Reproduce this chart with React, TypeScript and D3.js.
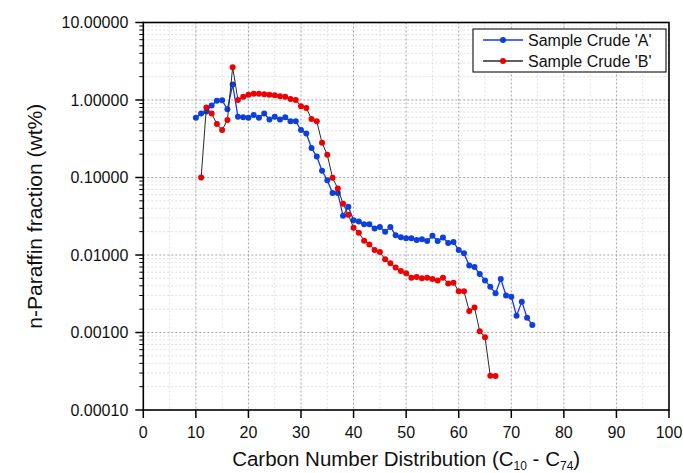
import React from "react";
import * as d3 from "d3";

const carbonA = d3.range(10, 75);
const fractionA = [
  0.59, 0.67, 0.71, 0.85, 0.98, 0.99, 0.76, 1.58, 0.61, 0.6,
  0.59, 0.64, 0.59, 0.67, 0.56, 0.61, 0.56, 0.6, 0.53, 0.53,
  0.41, 0.37, 0.24, 0.186, 0.122, 0.092, 0.063, 0.063, 0.032, 0.042,
  0.028, 0.027, 0.025, 0.025, 0.022, 0.023, 0.02, 0.023, 0.018, 0.017,
  0.0164, 0.0164, 0.0156, 0.016, 0.0152, 0.0177, 0.0152, 0.0168, 0.0143, 0.0147,
  0.0116, 0.0105, 0.0073, 0.007, 0.0057, 0.0047, 0.0039, 0.0032, 0.0049, 0.003,
  0.0029, 0.00165, 0.0025, 0.00155, 0.00125,
];

const carbonB = d3.range(11, 68);
const fractionB = [
  0.1, 0.8, 0.67, 0.49, 0.41, 0.55, 2.65, 1.0, 1.1,
  1.17, 1.2, 1.2, 1.19, 1.17, 1.15, 1.12, 1.1, 1.03, 1.0,
  0.83, 0.79, 0.57, 0.53, 0.28, 0.196, 0.099, 0.072, 0.046, 0.033,
  0.0225, 0.0194, 0.0153, 0.0137, 0.0116, 0.0109, 0.0088, 0.0078, 0.0069, 0.0062,
  0.0058, 0.0051, 0.0052, 0.005, 0.0051, 0.0049, 0.0047, 0.0051, 0.0043, 0.0044,
  0.0034, 0.0034, 0.0019, 0.0021, 0.00104, 0.00087, 0.000277, 0.000275,
];

const xTicks = [0, 10, 20, 30, 40, 50, 60, 70, 80, 90, 100];
const yTicks = [0.0001, 0.001, 0.01, 0.1, 1, 10];
const seriesNames = ["Sample Crude 'A'", "Sample Crude 'B'"];

const W = 683;
const H = 473;
const L = 143.3, R = 669, T = 22.5, B = 410;
const FONT = "'Liberation Sans', Arial, sans-serif";

export default function App() {
  const x = d3.scaleLinear().domain([0, 100]).range([L, R]);
  const y = d3.scaleLog().domain([0.0001, 10]).range([B, T]);

  const minorY: number[] = [];
  for (let e = -4; e < 1; e++) {
    for (let m = 2; m <= 9; m++) minorY.push(m * Math.pow(10, e));
  }
  const minorX = d3.range(5, 100, 10);

  const dataA = carbonA.map((c, i) => [c, fractionA[i]] as [number, number]);
  const dataB = carbonB.map((c, i) => [c, fractionB[i]] as [number, number]);
  const line = d3
    .line<[number, number]>()
    .x((d) => x(d[0]))
    .y((d) => y(d[1]));

  const blueLine = "#1238f0";
  const blueDot = "#0d3fdc";
  const redLine = "#2a2a2a";
  const redDot = "#ee0000";

  return (
    <svg
      width={W}
      height={H}
      style={{ position: "absolute", left: 0, top: 0, background: "#fff" }}
      fontFamily={FONT}
    >
      <rect x={0} y={0} width={W} height={H} fill="#fff" />
      {/* minor grid */}
      {minorY.map((v) => (
        <line key={"my" + v} x1={L} x2={R} y1={y(v)} y2={y(v)} stroke="#d8d8d8" strokeWidth={0.8} strokeDasharray="2,2" />
      ))}
      {minorX.map((v) => (
        <line key={"mx" + v} x1={x(v)} x2={x(v)} y1={T} y2={B} stroke="#d8d8d8" strokeWidth={0.8} strokeDasharray="2,2" />
      ))}
      {/* major grid */}
      {yTicks.slice(1, -1).map((v) => (
        <line key={"gy" + v} x1={L} x2={R} y1={y(v)} y2={y(v)} stroke="#9a9a9a" strokeWidth={0.9} strokeDasharray="2,2" />
      ))}
      {xTicks.slice(1, -1).map((v) => (
        <line key={"gx" + v} x1={x(v)} x2={x(v)} y1={T} y2={B} stroke="#9a9a9a" strokeWidth={0.9} strokeDasharray="2,2" />
      ))}

      {/* series A */}
      <path d={line(dataA) || ""} fill="none" stroke={blueLine} strokeWidth={1.3} />
      {dataA.map((d, i) => (
        <circle key={"a" + i} cx={x(d[0])} cy={y(d[1])} r={3} fill={blueDot} />
      ))}
      {/* series B */}
      <path d={line(dataB) || ""} fill="none" stroke={redLine} strokeWidth={1} />
      {dataB.map((d, i) => (
        <circle key={"b" + i} cx={x(d[0])} cy={y(d[1])} r={3} fill={redDot} />
      ))}

      {/* frame */}
      <rect x={L} y={T} width={R - L} height={B - T} fill="none" stroke="#000" strokeWidth={1.6} />

      {/* y ticks */}
      {minorY.map((v) => (
        <line key={"ty" + v} x1={L - 4} x2={L} y1={y(v)} y2={y(v)} stroke="#000" strokeWidth={1} />
      ))}
      {yTicks.map((v) => (
        <g key={"yt" + v}>
          <line x1={L - 8} x2={L} y1={y(v)} y2={y(v)} stroke="#000" strokeWidth={1.5} />
          <text x={L - 15} y={y(v)} dy="0.35em" textAnchor="end" fontSize={16} fill="#111">
            {v.toFixed(5)}
          </text>
        </g>
      ))}
      {/* x ticks */}
      {xTicks.map((v) => (
        <g key={"xt" + v}>
          <line x1={x(v)} x2={x(v)} y1={B} y2={B + 8} stroke="#000" strokeWidth={1.5} />
          <text x={x(v)} y={438} textAnchor="middle" fontSize={16} fill="#111">
            {v}
          </text>
        </g>
      ))}

      {/* axis titles */}
      <text
        transform={`translate(42, ${(T + B) / 2}) rotate(-90)`}
        textAnchor="middle"
        fontSize={21}
        fill="#111"
      >
        n-Paraffin fraction (wt%)
      </text>
      <text x={(L + R) / 2} y={466} textAnchor="middle" fontSize={20.5} fill="#111">
        Carbon Number Distribution (C
        <tspan fontSize={12} dy={4}>10</tspan>
        <tspan dy={-4}> - C</tspan>
        <tspan fontSize={12} dy={4}>74</tspan>
        <tspan dy={-4}>)</tspan>
      </text>

      {/* legend */}
      <rect x={473} y={29} width={193} height={43} fill="#fff" stroke="#222" strokeWidth={1.2} />
      {seriesNames.map((name, i) => {
        const ly = 40 + i * 21;
        return (
          <g key={name}>
            <line x1={483} x2={523} y1={ly} y2={ly} stroke={i === 0 ? blueLine : redLine} strokeWidth={1.3} />
            <circle cx={503} cy={ly} r={3} fill={i === 0 ? blueDot : redDot} />
            <text x={528} y={ly} dy="0.35em" fontSize={16} fill="#111">
              {name}
            </text>
          </g>
        );
      })}
    </svg>
  );
}
